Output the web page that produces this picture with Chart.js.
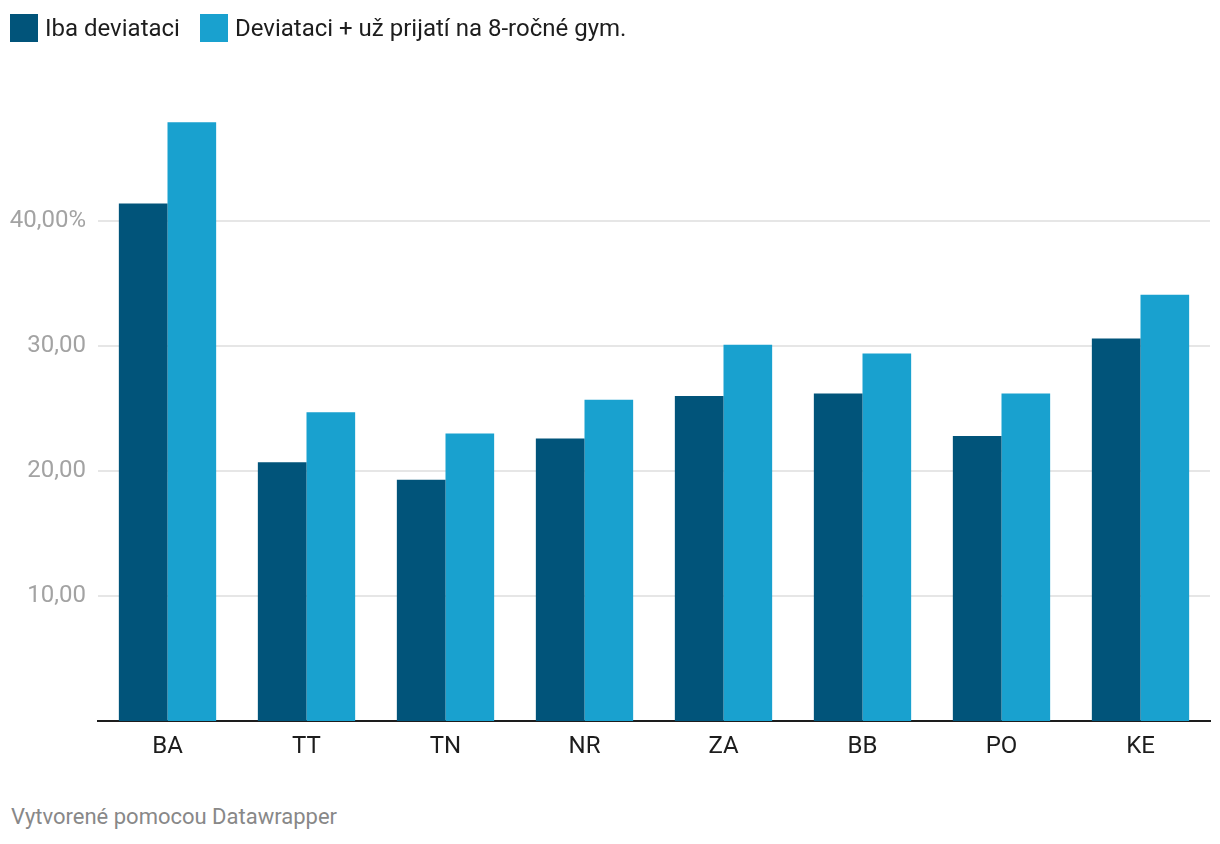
<!DOCTYPE html>
<html>
<head>
<meta charset="utf-8">
<script src="https://cdn.jsdelivr.net/npm/chart.js@4/dist/chart.umd.min.js"></script>
<style>
  html, body { margin: 0; padding: 0; background: #fff; width: 1220px; height: 844px; overflow: hidden; font-family: Roboto, "Noto Sans", sans-serif; }
  #wrap { position: absolute; left: 0; top: 0; width: 1220px; height: 780px; }
  #legend { position: absolute; left: 10px; top: 14px; display: flex; align-items: center; font-size: 24px; color: #1d1d1d; z-index: 2; }
  .item { display: flex; align-items: center; margin-right: 20px; }
  .sw { width: 28px; height: 28px; margin-right: 7px; }
  #footer { position: absolute; left: 11px; top: 803px; font-size: 22px; color: #888; line-height: 28px; }
</style>
</head>
<body>
<div id="legend"></div>
<div id="wrap"><canvas id="c" width="1220" height="780"></canvas></div>
<div id="footer">Vytvorené pomocou Datawrapper</div>
<script>
const categories = ['BA', 'TT', 'TN', 'NR', 'ZA', 'BB', 'PO', 'KE'];
const seriesNames = ['Iba deviataci', 'Deviataci + už prijatí na 8-ročné gym.'];
const ibaDeviataci = [41.4, 20.7, 19.3, 22.6, 26.0, 26.2, 22.8, 30.6];
const deviataciPrijati = [47.9, 24.7, 23.0, 25.7, 30.1, 29.4, 26.2, 34.1];
const yTicks = [10, 20, 30, 40];
const yTickLabels = ['10,00', '20,00', '30,00', '40,00%'];
const colors = ['#01547a', '#19a1cf'];

const legend = document.getElementById('legend');
seriesNames.forEach((n, i) => {
  const it = document.createElement('div'); it.className = 'item';
  const sw = document.createElement('div'); sw.className = 'sw'; sw.style.background = colors[i];
  const t = document.createElement('span'); t.textContent = n;
  it.appendChild(sw); it.appendChild(t); legend.appendChild(it);
});

new Chart(document.getElementById('c'), {
  type: 'bar',
  data: {
    labels: categories,
    datasets: [
      { label: seriesNames[0], data: ibaDeviataci, backgroundColor: colors[0], categoryPercentage: 0.7, barPercentage: 1.0, borderWidth: 0 },
      { label: seriesNames[1], data: deviataciPrijati, backgroundColor: colors[1], categoryPercentage: 0.7, barPercentage: 1.0, borderWidth: 0 }
    ]
  },
  options: {
    responsive: false,
    animation: false,
    devicePixelRatio: 1,
    layout: { padding: { top: 96, right: 10, left: 0, bottom: 0 } },
    plugins: { legend: { display: false }, tooltip: { enabled: false } },
    scales: {
      x: {
        grid: { display: false, drawTicks: false },
        border: { display: true, color: '#1d1d1d', width: 2 },
        ticks: { color: '#1d1d1d', font: { family: 'Roboto', size: 24 }, padding: 12, maxRotation: 0 },
        afterFit(s) { s.height = 59; }
      },
      y: {
        min: 0, max: 50,
        afterBuildTicks(s) { s.ticks = yTicks.map(v => ({ value: v })); },
        grid: { color: '#e6e6e6', lineWidth: 2, drawTicks: false },
        border: { display: false },
        ticks: {
          color: '#a3a3a3', font: { family: 'Roboto', size: 24 }, padding: 12,
          callback(v) { const i = yTicks.indexOf(v); return i >= 0 ? yTickLabels[i] : ''; }
        },
        afterFit(s) { s.width = 98; }
      }
    }
  }
});
</script>
</body>
</html>
